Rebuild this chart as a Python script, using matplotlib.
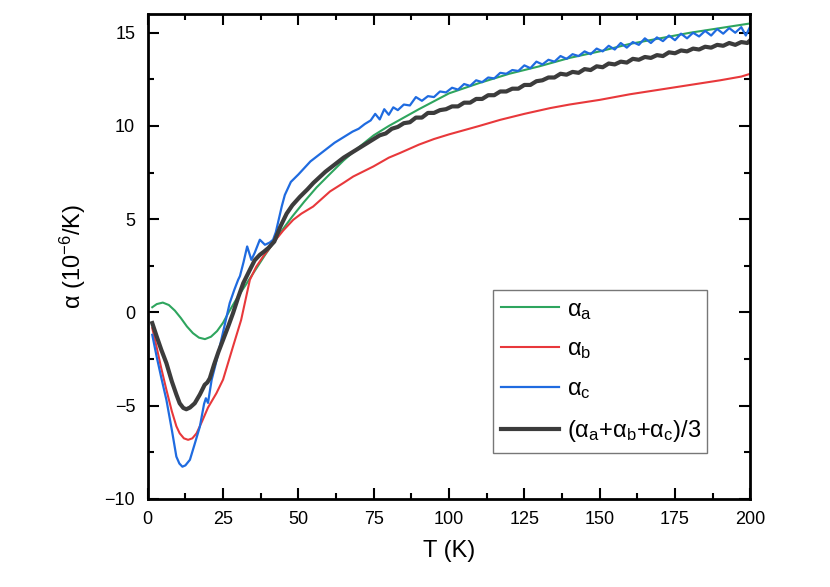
import matplotlib
matplotlib.use('agg')
import matplotlib.pyplot as plt
from matplotlib.ticker import MultipleLocator

plt.rcParams['font.family'] = ['Liberation Sans', 'DejaVu Sans']
plt.rcParams['mathtext.fontset'] = 'custom'
plt.rcParams['mathtext.rm'] = 'Liberation Sans'
plt.rcParams['mathtext.it'] = 'Liberation Sans'

# alpha_a (green)
t_a = [1.5, 3, 5, 7, 9, 11, 13, 15, 17, 19, 21, 23, 25, 27, 29, 31, 33, 36, 39,
       42, 45, 48, 52, 56, 60, 65, 70, 75, 80, 85, 90, 100, 110, 120, 130, 140,
       150, 160, 170, 180, 190, 200]
alpha_a = [0.28, 0.45, 0.53, 0.4, 0.1, -0.3, -0.75, -1.11, -1.35, -1.43, -1.3,
           -1.0, -0.55, 0.05, 0.6, 1.1, 1.6, 2.35, 3.1, 3.8, 4.5, 5.15, 5.95,
           6.7, 7.35, 8.15, 8.85, 9.5, 10.0, 10.45, 10.9, 11.75, 12.3, 12.8,
           13.2, 13.65, 14.0, 14.4, 14.7, 15.0, 15.25, 15.5]

# alpha_b (red)
t_b = [1.5, 3, 4.5, 6.2, 8, 9.5, 10.6, 12, 13.4, 14.8, 16.2, 18, 20, 22.8, 25,
       28.3, 31, 33.9, 36, 38.3, 40, 42, 45, 48.3, 51, 54.9, 60.5, 65, 68.2,
       74.9, 80, 83.7, 90, 95, 100, 110, 117, 125, 133.6, 140, 150, 160, 170,
       180, 190, 197, 200]
alpha_b = [-0.84, -1.9, -3.0, -4.15, -5.3, -6.1, -6.48, -6.75, -6.83, -6.75,
           -6.48, -5.85, -5.1, -4.33, -3.6, -1.83, -0.4, 1.75, 2.45, 3.0, 3.35,
           3.8, 4.4, 4.97, 5.3, 5.68, 6.49, 6.95, 7.29, 7.83, 8.3, 8.55, 9.0,
           9.3, 9.55, 10.0, 10.33, 10.65, 10.96, 11.15, 11.4, 11.7, 11.95,
           12.2, 12.45, 12.65, 12.8]

# alpha_c (blue)
t_c = [1.5, 3, 4.5, 6.2, 8, 9.5, 10.5, 11.5, 12.5, 14, 15.5, 17.3, 18.7, 19.3,
       20, 21.2, 22.5, 23.9, 25.5, 27.2, 28.7, 30, 30.6, 31.8, 33, 34.4, 35.5,
       37.2, 38.9, 40.5, 41.6, 42.5, 43.5, 44.5, 45.5, 47.5, 50, 52, 54, 56,
       58, 60, 62, 64, 66, 68, 70, 72, 74, 75.5, 77, 78.5, 80, 81.5, 83, 85,
       87, 89, 91, 93, 95, 97, 99, 101, 103, 105, 107, 109, 111, 113, 115, 117,
       119, 121, 123, 125, 127, 129, 131, 133, 135, 137, 139, 141, 143, 145,
       147, 149, 151, 153, 155, 157, 159, 161, 163, 165, 167, 169, 171, 173,
       175, 177, 179, 181, 183, 185, 187, 189, 191, 193, 195, 197, 198.5, 200]
alpha_c = [-1.2, -2.4, -3.5, -4.69, -6.3, -7.73, -8.1, -8.27, -8.2, -7.9, -7.1,
           -6.12, -4.9, -4.6, -4.85, -3.62, -2.8, -1.83, -0.7, 0.5, 1.2, 1.75,
           1.95, 2.7, 3.54, 2.82, 3.2, 3.9, 3.63, 3.75, 3.9, 4.3, 5.0, 5.7, 6.3,
           7.0, 7.4, 7.75, 8.1, 8.35, 8.6, 8.85, 9.1, 9.3, 9.5, 9.7, 9.85, 10.1,
           10.3, 10.65, 10.35, 10.9, 10.6, 11.0, 10.85, 11.15, 11.1, 11.55,
           11.35, 11.6, 11.55, 11.85, 11.8, 12.05, 11.95, 12.25, 12.15, 12.45,
           12.35, 12.6, 12.55, 12.85, 12.8, 13.0, 12.95, 13.25, 13.1, 13.45,
           13.3, 13.55, 13.45, 13.75, 13.6, 13.85, 13.75, 14.0, 13.85, 14.15,
           14.0, 14.3, 14.1, 14.45, 14.2, 14.5, 14.35, 14.7, 14.45, 14.75,
           14.55, 14.85, 14.6, 14.95, 14.7, 15.0, 14.8, 15.1, 14.85, 15.2,
           14.95, 15.25, 15.0, 15.3, 14.85, 15.35]

# average (dark grey)
t_avg = [1.5, 3, 4.5, 6.2, 8, 9.5, 10.6, 11.8, 12.8, 14, 15.6, 17.3, 18.9, 19.8,
         20.6, 22, 23.5, 25, 26.7, 28.3, 30, 31.7, 33.9, 35.5, 37.2, 38.5, 40,
         42, 44, 46.1, 48, 50.5, 53, 55, 57, 59, 61, 63, 65, 67, 69, 71, 73,
         75, 77, 79, 81, 83, 85, 87, 89, 91, 93, 95, 97, 99, 101, 103, 105, 107,
         109, 111, 113, 115, 117, 119, 121, 123, 125, 127, 129, 131, 133, 135,
         137, 139, 141, 143, 145, 147, 149, 151, 153, 155, 157, 159, 161, 163,
         165, 167, 169, 171, 173, 175, 177, 179, 181, 183, 185, 187, 189, 191,
         193, 195, 197, 199, 200]
alpha_avg = [-0.57, -1.3, -2.0, -2.72, -3.7, -4.4, -4.87, -5.12, -5.19, -5.1,
             -4.87, -4.4, -3.88, -3.75, -3.53, -2.8, -2.1, -1.47, -0.75, -0.04,
             0.8, 1.57, 2.29, 2.8, 3.09, 3.25, 3.45, 3.8, 4.6, 5.3, 5.75, 6.2,
             6.6, 6.95, 7.25, 7.55, 7.8, 8.05, 8.3, 8.5, 8.7, 8.9, 9.1, 9.3,
             9.5, 9.6, 9.85, 9.95, 10.15, 10.2, 10.45, 10.45, 10.7, 10.7, 10.85,
             10.9, 11.05, 11.05, 11.25, 11.25, 11.45, 11.45, 11.65, 11.65,
             11.85, 11.85, 12.0, 12.0, 12.2, 12.2, 12.4, 12.45, 12.6, 12.6,
             12.8, 12.75, 12.9, 12.85, 13.05, 13.0, 13.2, 13.15, 13.35, 13.3,
             13.45, 13.4, 13.6, 13.55, 13.7, 13.65, 13.8, 13.75, 13.95, 13.9,
             14.05, 14.0, 14.15, 14.1, 14.25, 14.2, 14.35, 14.3, 14.45, 14.35,
             14.5, 14.45, 14.6]

fig = plt.figure(figsize=(8.3, 5.87), dpi=100)
ax = fig.add_axes([0.178, 0.150, 0.726, 0.826])

ax.plot(t_a, alpha_a, color='#2ea55e', lw=1.5, label='α$_\\mathrm{a}$')
ax.plot(t_b, alpha_b, color='#e8383b', lw=1.5, label='α$_\\mathrm{b}$')
ax.plot(t_c, alpha_c, color='#1f6be0', lw=1.6, label='α$_\\mathrm{c}$')
ax.plot(t_avg, alpha_avg, color='#3c3c3c', lw=3,
        label='(α$_\\mathrm{a}$+α$_\\mathrm{b}$+α$_\\mathrm{c}$)/3')

ax.set_xlim(0, 200)
ax.set_ylim(-10, 16)
ax.xaxis.set_major_locator(MultipleLocator(25))
ax.xaxis.set_minor_locator(MultipleLocator(12.5))
ax.yaxis.set_major_locator(MultipleLocator(5))
ax.yaxis.set_minor_locator(MultipleLocator(2.5))
ax.tick_params(which='both', direction='in', top=True, right=True,
               width=1.5, labelsize=13, pad=9)
ax.tick_params(which='major', length=8)
ax.tick_params(which='minor', length=4)
for sp in ax.spines.values():
    sp.set_linewidth(2)

ax.set_xlabel('T (K)', fontsize=17, labelpad=8)
ax.set_ylabel('α (10$^{-6}$/K)', fontsize=17, labelpad=12)

leg = ax.legend(loc='lower left', bbox_to_anchor=(0.573, 0.0955, 0.355, 0.331),
                mode='expand', fontsize=17, frameon=True, fancybox=False,
                handlelength=2.45, handletextpad=0.35, borderaxespad=0,
                borderpad=0.35, labelspacing=0.72)
leg.get_frame().set_edgecolor('#555555')
leg.get_frame().set_linewidth(1.0)

plt.savefig('out.png')
